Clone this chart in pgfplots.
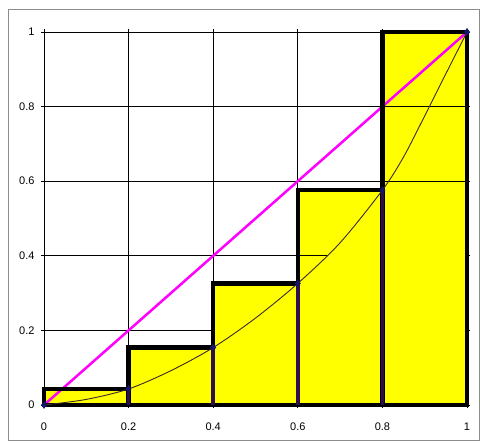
\documentclass[border=0pt]{standalone}
\usepackage{fontspec}
\setmainfont{Liberation Sans}
\usepackage{pgfplots}
\pgfplotsset{compat=1.18}
\definecolor{barpurple}{RGB}{45,15,75}
\definecolor{curvecol}{RGB}{60,40,50}
\definecolor{markcol}{RGB}{20,20,110}
\definecolor{pinkline}{RGB}{255,0,255}
\definecolor{baryellow}{RGB}{255,255,0}
\begin{document}
\begin{tikzpicture}[x=1pt,y=1pt]
\useasboundingbox (0,0) rectangle (480,444);
\draw[black!45, line width=1pt] (8,3) rectangle (479,434);
\begin{axis}[
  at={(44pt,39pt)}, anchor=south west,
  scale only axis, width=423pt, height=373pt,
  xmin=0, xmax=1, ymin=0, ymax=1,
  xtick={0,0.2,...,1}, ytick={0,0.2,...,1},
  grid=major, major grid style={black, line width=0.8pt},
  axis line style={black, line width=0.8pt},
  tick align=outside, major tick length=3pt,
  tick style={black, line width=0.8pt},
  ticklabel style={font=\fontsize{11}{13}\selectfont},
  xticklabel style={yshift=-11pt},
  yticklabel style={xshift=-3pt},
  /pgf/number format/assume math mode=true,
  clip=false,
]
% bar fills
\addplot[ybar interval, fill=baryellow, draw=none]
  coordinates {(0,0.043) (0.2,0.154) (0.4,0.326) (0.6,0.576) (0.8,1) (1,1)};
% gridline segments visible over the bars
\addplot[black, line width=0.8pt] coordinates {(0.8,0.6) (1,0.6)};
\addplot[black, line width=0.8pt] coordinates {(0.8,0.8) (1,0.8)};
\addplot[black, line width=0.8pt] coordinates {(0.6,0.4) (0.668,0.4)};
% equality line
\addplot[pinkline, line width=2.5pt] coordinates {(0,0) (1,1)};
% bar outlines
\addplot[ybar interval, fill=none, draw=black, line width=4.5pt]
  coordinates {(0,0.043) (0.2,0.154) (0.4,0.326) (0.6,0.576) (0.8,1) (1,1)};
% drop lines
\addplot[barpurple, line width=3.5pt, ycomb]
  coordinates {(0.2,0.043) (0.4,0.154) (0.6,0.326) (0.8,0.576)};
% Lorenz curve
\addplot[curvecol, line width=0.9pt, smooth, tension=0.5]
  coordinates {(0,0) (0.1,0.015) (0.2,0.043) (0.3,0.092) (0.4,0.154) (0.5,0.233)
               (0.6,0.326) (0.7,0.435) (0.8,0.576) (0.85,0.665)
               (0.9,0.775) (0.95,0.888) (1,1)};
\addplot[only marks, mark=diamond*, mark size=3.5pt,
  mark options={fill=markcol, draw=markcol}]
  coordinates {(0,0) (0.2,0.043) (0.4,0.154) (0.6,0.326) (0.8,0.576) (1,1)};
\end{axis}
\end{tikzpicture}
\end{document}
